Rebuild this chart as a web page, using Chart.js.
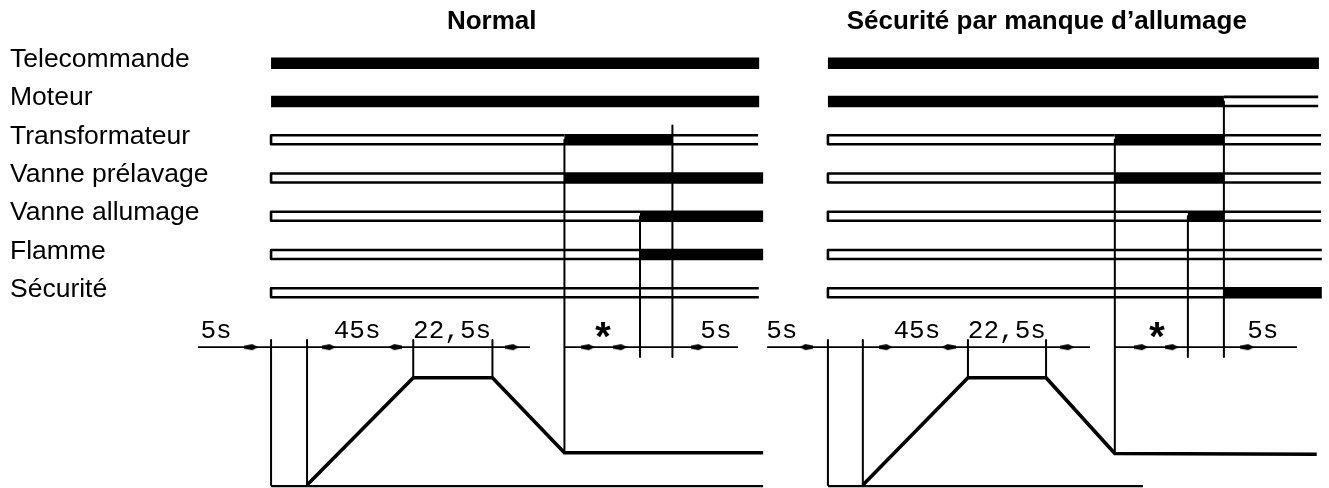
<!DOCTYPE html>
<html>
<head>
<meta charset="utf-8">
<script src="https://cdn.jsdelivr.net/npm/chart.js@4"></script>
<style>
  html, body { margin: 0; padding: 0; background: #fff; }
</style>
</head>
<body>
<canvas id="sequence" width="1329" height="488"></canvas>
<script>
// signaux (lignes du chronogramme)
const signaux = ['Telecommande', 'Moteur', 'Transformateur', 'Vanne prélavage', 'Vanne allumage', 'Flamme', 'Sécurité'];
const titres = ['Normal', 'Sécurité par manque d’allumage'];

// segments [debut, fin, actif] en temps schematique, un tableau par signal
const normalSegments = [
    [[0, 135.6, 1]],
    [[0, 135.6, 1]],
    [[0, 81.5, 0], [81.5, 111.5, 1], [111.5, 135.3, 0]],
    [[0, 81.5, 0], [81.5, 136.7, 1]],
    [[0, 102.5, 0], [102.5, 136.7, 1]],
    [[0, 102.5, 0], [102.5, 136.7, 1]],
    [[0, 135.5, 0]]
];
const securiteSegments = [
    [[0, 136.4, 1]],
    [[0, 110, 1], [110, 136.2, 0]],
    [[0, 79.7, 0], [79.7, 110, 1], [110, 137, 0]],
    [[0, 79.7, 0], [79.7, 110, 1], [110, 137, 0]],
    [[0, 100, 0], [100, 110, 1], [110, 137, 0]],
    [[0, 137.2, 0]],
    [[0, 110, 0], [110, 137.2, 1]]
];

// reperes verticaux [temps, haut, bas]
const normalReperes = [[0, 7.23, 11.02], [10, 7.23, 11.02], [39.5, 7.23, 8.22], [61.5, 7.23, 8.22],
    [81.5, 2.0, 10.18], [102.5, 4.0, 7.68], [111.5, 1.63, 7.68]];
const securiteReperes = [[0, 7.23, 11.02], [9.7, 7.23, 11.02], [38.9, 7.23, 8.22], [60.6, 7.23, 8.22],
    [79.7, 2.0, 10.2], [100, 4.0, 7.68], [110, 1.0, 7.68]];

// position du servomoteur
const normalServoT = [10, 39.5, 61.5, 81.5, 136.7];
const normalServoY = [11.02, 8.22, 8.22, 10.18, 10.18];
const securiteServoT = [9.7, 38.9, 60.6, 79.7, 135.8];
const securiteServoY = [11.02, 8.22, 8.22, 10.2, 10.22];
const normalBase = [0, 136.7];
const securiteBase = [0, 87.5];

// lignes de cote et fleches
const normalCotesLignes = [[-20.3, 71.9], [81.5, 129.7]];
const securiteCotesLignes = [[-16.9, 72.8], [79.7, 130.3]];
const normalFleches = [[-5.5, 0], [16, 0], [34.5, 180], [67, 0], [88, 0], [97, 0], [118.5, 0]];
const securiteFleches = [[-6, 180], [16, 0], [33.5, 180], [66.5, 0], [87, 0], [95.5, 0], [116.5, 0]];
const cotes = ['5s', '45s', '22,5s', '*', '5s'];
const normalCotesT = [-15.3, 23.9, 50.3, 92.2, 123.6];
const securiteCotesT = [-12.8, 24.7, 49.7, 91.4, 120.8];

const yCote = 7.42;
const demi = 0.118;

// petite pointe de fleche
const pointe = document.createElement('canvas');
pointe.width = 14; pointe.height = 8;
(function () {
    const c = pointe.getContext('2d');
    c.fillStyle = '#000';
    c.beginPath();
    c.moveTo(0, 2.6); c.lineTo(8, 1); c.lineTo(14, 4); c.lineTo(8, 7); c.lineTo(0, 5.4);
    c.closePath(); c.fill();
})();

function trait(axe, pts, ep) {
    return {
        xAxisID: axe,
        data: pts.map(p => ({x: p[0], y: p[1]})),
        showLine: true,
        borderColor: '#000',
        borderWidth: ep,
        borderCapStyle: 'butt',
        borderJoinStyle: 'round',
        pointRadius: 0,
        fill: false
    };
}

function diagramme(axe, segments, reperes, servoT, servoY, base, lignes, fleches) {
    const ds = [];
    segments.forEach((liste, rang) => {
        liste.forEach(([debut, fin, actif]) => {
            if (actif) {
                ds.push(trait(axe, [[debut, rang], [fin, rang]], 11.5));
            } else if (debut === 0) {
                ds.push(trait(axe, [[fin, rang - demi], [debut, rang - demi], [debut, rang + demi], [fin, rang + demi]], 2.6));
            } else {
                ds.push(trait(axe, [[debut, rang - demi], [fin, rang - demi]], 2.6));
                ds.push(trait(axe, [[debut, rang + demi], [fin, rang + demi]], 2.6));
            }
        });
    });
    reperes.forEach(([t, haut, bas]) => ds.push(trait(axe, [[t, haut], [t, bas]], 2)));
    ds.push(trait(axe, [[base[0], 11.05], [base[1], 11.05]], 2.2));
    ds.push(trait(axe, servoT.map((t, i) => [t, servoY[i]]), 3.6));
    lignes.forEach(([a, b]) => ds.push(trait(axe, [[a, yCote], [b, yCote]], 1.8)));
    ds.push({
        xAxisID: axe,
        data: fleches.map(f => ({x: f[0], y: yCote})),
        showLine: false,
        pointStyle: pointe,
        pointRotation: fleches.map(f => f[1]),
        pointRadius: 7
    });
    return ds;
}

const textes = {
    id: 'textes',
    afterDatasetsDraw(chart) {
        const {ctx, scales: {x, x2, y}} = chart;
        ctx.save();
        ctx.fillStyle = '#000';
        ctx.textBaseline = 'alphabetic';
        ctx.textAlign = 'left';
        ctx.font = '26.5px "Liberation Sans", Arial, sans-serif';
        signaux.forEach((nom, i) => ctx.fillText(nom, chart.chartArea.left + 10, y.getPixelForValue(i) + 4));

        ctx.textAlign = 'center';
        ctx.font = 'bold 26px "Liberation Sans", Arial, sans-serif';
        ctx.fillText(titres[0], x.getPixelForValue(61.3), y.getPixelForValue(-0.88));
        ctx.fillText(titres[1], x2.getPixelForValue(60.8), y.getPixelForValue(-0.88));

        [[x, normalCotesT], [x2, securiteCotesT]].forEach(([sx, pos]) => {
            cotes.forEach((c, i) => {
                if (c === '*') {
                    ctx.font = 'bold 40px "Liberation Mono", monospace';
                    ctx.fillText(c, sx.getPixelForValue(pos[i]), y.getPixelForValue(7.55));
                } else {
                    ctx.font = '26px "Liberation Mono", "DejaVu Sans Mono", monospace';
                    ctx.fillText(c, sx.getPixelForValue(pos[i]), y.getPixelForValue(7.18));
                }
            });
        });
        ctx.restore();
    }
};

const ctx = document.getElementById('sequence').getContext('2d');
const chart = new Chart(ctx, {
    type: 'scatter',
    data: {
        datasets: [
            ...diagramme('x', normalSegments, normalReperes, normalServoT, normalServoY, normalBase, normalCotesLignes, normalFleches),
            ...diagramme('x2', securiteSegments, securiteReperes, securiteServoT, securiteServoY, securiteBase, securiteCotesLignes, securiteFleches)
        ]
    },
    options: {
        responsive: false,
        animation: false,
        layout: { padding: 0, autoPadding: false },
        plugins: { legend: { display: false }, tooltip: { enabled: false } },
        scales: {
            x: { type: 'linear', min: -75.3, max: 293.9, display: false },
            x2: { type: 'linear', min: -230, max: 139.2, display: false },
            y: { type: 'linear', min: -1.65, max: 11.1, reverse: true, display: false }
        }
    },
    plugins: [textes]
});
</script>
</body>
</html>
